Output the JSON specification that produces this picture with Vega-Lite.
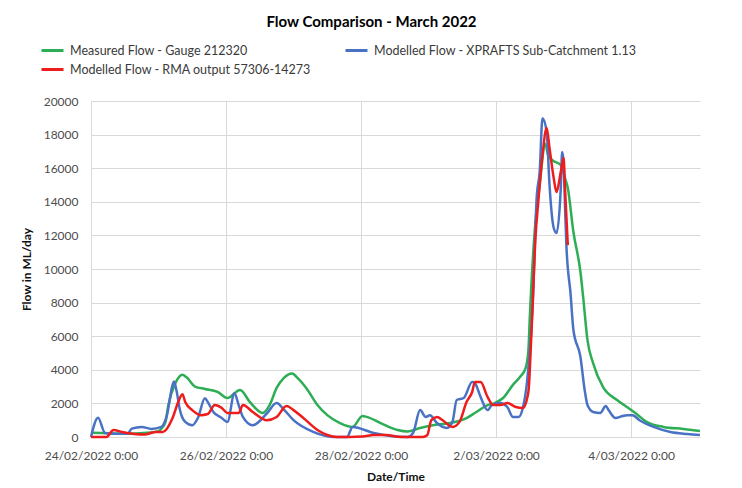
{
  "$schema": "https://vega.github.io/schema/vega-lite/v6.json",
  "width": 609,
  "height": 336,
  "autosize": {"type": "none"},
  "padding": {"left": 91, "top": 101, "right": 42, "bottom": 51},
  "background": "white",
  "title": {
    "text": "Flow Comparison - March 2022",
    "font": "Lato",
    "fontSize": 15,
    "fontWeight": "bold",
    "color": "#000000",
    "anchor": "middle",
    "dx": -24,
    "offset": 8
  },
  "config": {
    "view": {"stroke": null},
    "axis": {
      "gridColor": "#d9d9d9",
      "gridWidth": 1,
      "domain": false,
      "ticks": false,
      "labelFont": "Lato",
      "labelFontSize": 12,
      "labelColor": "#4d4d4d",
      "titleFont": "Lato",
      "titleFontSize": 12,
      "titleFontWeight": "bold",
      "titleColor": "#111111"
    }
  },
  "data": {
    "values": [
      {"s": "G", "t": "2022-02-24T00:00", "v": 250},
      {"s": "G", "t": "2022-02-24T12:00", "v": 200},
      {"s": "G", "t": "2022-02-24T20:00", "v": 250},
      {"s": "G", "t": "2022-02-25T00:00", "v": 350},
      {"s": "G", "t": "2022-02-25T01:00", "v": 500},
      {"s": "G", "t": "2022-02-25T02:30", "v": 900},
      {"s": "G", "t": "2022-02-25T03:30", "v": 1900},
      {"s": "G", "t": "2022-02-25T06:00", "v": 3200},
      {"s": "G", "t": "2022-02-25T08:30", "v": 3700},
      {"s": "G", "t": "2022-02-25T10:00", "v": 3550},
      {"s": "G", "t": "2022-02-25T13:00", "v": 3000},
      {"s": "G", "t": "2022-02-25T16:30", "v": 2860},
      {"s": "G", "t": "2022-02-25T21:00", "v": 2680},
      {"s": "G", "t": "2022-02-26T00:30", "v": 2320},
      {"s": "G", "t": "2022-02-26T05:00", "v": 2800},
      {"s": "G", "t": "2022-02-26T08:30", "v": 2080},
      {"s": "G", "t": "2022-02-26T13:00", "v": 1430},
      {"s": "G", "t": "2022-02-26T15:30", "v": 1900},
      {"s": "G", "t": "2022-02-26T18:00", "v": 2920},
      {"s": "G", "t": "2022-02-26T20:30", "v": 3500},
      {"s": "G", "t": "2022-02-26T23:30", "v": 3780},
      {"s": "G", "t": "2022-02-27T01:30", "v": 3500},
      {"s": "G", "t": "2022-02-27T05:00", "v": 2800},
      {"s": "G", "t": "2022-02-27T08:30", "v": 1900},
      {"s": "G", "t": "2022-02-27T12:00", "v": 1300},
      {"s": "G", "t": "2022-02-27T16:30", "v": 830},
      {"s": "G", "t": "2022-02-27T21:00", "v": 600},
      {"s": "G", "t": "2022-02-28T00:30", "v": 1250},
      {"s": "G", "t": "2022-02-28T02:00", "v": 1200},
      {"s": "G", "t": "2022-02-28T07:00", "v": 830},
      {"s": "G", "t": "2022-02-28T13:00", "v": 420},
      {"s": "G", "t": "2022-02-28T16:30", "v": 330},
      {"s": "G", "t": "2022-02-28T21:00", "v": 540},
      {"s": "G", "t": "2022-03-01T01:30", "v": 700},
      {"s": "G", "t": "2022-03-01T07:30", "v": 830},
      {"s": "G", "t": "2022-03-01T13:30", "v": 1130},
      {"s": "G", "t": "2022-03-01T17:00", "v": 1490},
      {"s": "G", "t": "2022-03-01T21:00", "v": 1900},
      {"s": "G", "t": "2022-03-01T23:30", "v": 2020},
      {"s": "G", "t": "2022-03-02T02:30", "v": 2320},
      {"s": "G", "t": "2022-03-02T06:00", "v": 3100},
      {"s": "G", "t": "2022-03-02T08:30", "v": 3570},
      {"s": "G", "t": "2022-03-02T10:30", "v": 4100},
      {"s": "G", "t": "2022-03-02T11:30", "v": 5180},
      {"s": "G", "t": "2022-03-02T12:00", "v": 7140},
      {"s": "G", "t": "2022-03-02T14:00", "v": 12800},
      {"s": "G", "t": "2022-03-02T15:30", "v": 15000},
      {"s": "G", "t": "2022-03-02T17:30", "v": 17450},
      {"s": "G", "t": "2022-03-02T18:30", "v": 16780},
      {"s": "G", "t": "2022-03-02T20:00", "v": 16480},
      {"s": "G", "t": "2022-03-02T23:00", "v": 16190},
      {"s": "G", "t": "2022-03-03T00:30", "v": 15410},
      {"s": "G", "t": "2022-03-03T01:30", "v": 14820},
      {"s": "G", "t": "2022-03-03T03:30", "v": 12200},
      {"s": "G", "t": "2022-03-03T06:00", "v": 9820},
      {"s": "G", "t": "2022-03-03T07:00", "v": 8270},
      {"s": "G", "t": "2022-03-03T08:30", "v": 5770},
      {"s": "G", "t": "2022-03-03T10:30", "v": 4400},
      {"s": "G", "t": "2022-03-03T14:00", "v": 2980},
      {"s": "G", "t": "2022-03-03T19:00", "v": 2200},
      {"s": "G", "t": "2022-03-03T22:30", "v": 1785},
      {"s": "G", "t": "2022-03-04T01:30", "v": 1430},
      {"s": "G", "t": "2022-03-04T05:30", "v": 900},
      {"s": "G", "t": "2022-03-04T11:30", "v": 600},
      {"s": "G", "t": "2022-03-04T18:30", "v": 480},
      {"s": "G", "t": "2022-03-05T00:30", "v": 360},

      {"s": "B", "t": "2022-02-24T00:00", "v": 0},
      {"s": "B", "t": "2022-02-24T02:30", "v": 1150},
      {"s": "B", "t": "2022-02-24T05:00", "v": 240},
      {"s": "B", "t": "2022-02-24T08:30", "v": 200},
      {"s": "B", "t": "2022-02-24T13:00", "v": 200},
      {"s": "B", "t": "2022-02-24T14:30", "v": 500},
      {"s": "B", "t": "2022-02-24T18:00", "v": 600},
      {"s": "B", "t": "2022-02-24T21:30", "v": 480},
      {"s": "B", "t": "2022-02-25T01:00", "v": 600},
      {"s": "B", "t": "2022-02-25T03:00", "v": 1300},
      {"s": "B", "t": "2022-02-25T05:00", "v": 3100},
      {"s": "B", "t": "2022-02-25T05:30", "v": 3300},
      {"s": "B", "t": "2022-02-25T06:30", "v": 2680},
      {"s": "B", "t": "2022-02-25T07:30", "v": 1700},
      {"s": "B", "t": "2022-02-25T09:30", "v": 900},
      {"s": "B", "t": "2022-02-25T12:00", "v": 700},
      {"s": "B", "t": "2022-02-25T14:00", "v": 1130},
      {"s": "B", "t": "2022-02-25T16:30", "v": 2300},
      {"s": "B", "t": "2022-02-25T17:30", "v": 2080},
      {"s": "B", "t": "2022-02-25T19:30", "v": 1490},
      {"s": "B", "t": "2022-02-25T22:30", "v": 1130},
      {"s": "B", "t": "2022-02-26T00:30", "v": 900},
      {"s": "B", "t": "2022-02-26T03:00", "v": 2600},
      {"s": "B", "t": "2022-02-26T04:30", "v": 1900},
      {"s": "B", "t": "2022-02-26T06:00", "v": 1200},
      {"s": "B", "t": "2022-02-26T09:30", "v": 700},
      {"s": "B", "t": "2022-02-26T14:30", "v": 1400},
      {"s": "B", "t": "2022-02-26T18:00", "v": 2020},
      {"s": "B", "t": "2022-02-26T20:30", "v": 1650},
      {"s": "B", "t": "2022-02-27T00:00", "v": 1000},
      {"s": "B", "t": "2022-02-27T07:00", "v": 300},
      {"s": "B", "t": "2022-02-27T14:00", "v": 0},
      {"s": "B", "t": "2022-02-27T19:00", "v": 0},
      {"s": "B", "t": "2022-02-27T21:00", "v": 600},
      {"s": "B", "t": "2022-02-28T04:30", "v": 240},
      {"s": "B", "t": "2022-02-28T10:30", "v": 60},
      {"s": "B", "t": "2022-02-28T16:30", "v": 0},
      {"s": "B", "t": "2022-02-28T18:30", "v": 240},
      {"s": "B", "t": "2022-02-28T21:00", "v": 1600},
      {"s": "B", "t": "2022-02-28T23:00", "v": 1190},
      {"s": "B", "t": "2022-03-01T00:30", "v": 1300},
      {"s": "B", "t": "2022-03-01T03:00", "v": 830},
      {"s": "B", "t": "2022-03-01T06:30", "v": 540},
      {"s": "B", "t": "2022-03-01T08:30", "v": 900},
      {"s": "B", "t": "2022-03-01T10:00", "v": 2200},
      {"s": "B", "t": "2022-03-01T12:30", "v": 2320},
      {"s": "B", "t": "2022-03-01T15:30", "v": 3270},
      {"s": "B", "t": "2022-03-01T16:30", "v": 3200},
      {"s": "B", "t": "2022-03-01T18:30", "v": 2380},
      {"s": "B", "t": "2022-03-01T21:00", "v": 1600},
      {"s": "B", "t": "2022-03-01T22:30", "v": 1900},
      {"s": "B", "t": "2022-03-02T01:30", "v": 2020},
      {"s": "B", "t": "2022-03-02T04:00", "v": 1785},
      {"s": "B", "t": "2022-03-02T06:00", "v": 1190},
      {"s": "B", "t": "2022-03-02T08:00", "v": 1190},
      {"s": "B", "t": "2022-03-02T09:30", "v": 1725},
      {"s": "B", "t": "2022-03-02T11:00", "v": 3270},
      {"s": "B", "t": "2022-03-02T13:00", "v": 7850},
      {"s": "B", "t": "2022-03-02T14:30", "v": 14400},
      {"s": "B", "t": "2022-03-02T15:30", "v": 15770},
      {"s": "B", "t": "2022-03-02T16:30", "v": 18980},
      {"s": "B", "t": "2022-03-02T18:00", "v": 18150},
      {"s": "B", "t": "2022-03-02T19:00", "v": 15000},
      {"s": "B", "t": "2022-03-02T20:30", "v": 12440},
      {"s": "B", "t": "2022-03-02T21:30", "v": 12140},
      {"s": "B", "t": "2022-03-02T23:00", "v": 14800},
      {"s": "B", "t": "2022-03-02T23:30", "v": 16960},
      {"s": "B", "t": "2022-03-03T00:00", "v": 16360},
      {"s": "B", "t": "2022-03-03T00:30", "v": 13800},
      {"s": "B", "t": "2022-03-03T01:00", "v": 11420},
      {"s": "B", "t": "2022-03-03T02:30", "v": 8500},
      {"s": "B", "t": "2022-03-03T03:30", "v": 6370},
      {"s": "B", "t": "2022-03-03T06:00", "v": 4760},
      {"s": "B", "t": "2022-03-03T07:30", "v": 2800},
      {"s": "B", "t": "2022-03-03T08:30", "v": 1900},
      {"s": "B", "t": "2022-03-03T10:30", "v": 1490},
      {"s": "B", "t": "2022-03-03T13:00", "v": 1430},
      {"s": "B", "t": "2022-03-03T15:00", "v": 1840},
      {"s": "B", "t": "2022-03-03T16:00", "v": 1600},
      {"s": "B", "t": "2022-03-03T18:30", "v": 1130},
      {"s": "B", "t": "2022-03-03T21:00", "v": 1250},
      {"s": "B", "t": "2022-03-03T22:30", "v": 1300},
      {"s": "B", "t": "2022-03-04T00:30", "v": 1300},
      {"s": "B", "t": "2022-03-04T03:00", "v": 1000},
      {"s": "B", "t": "2022-03-04T08:00", "v": 600},
      {"s": "B", "t": "2022-03-04T14:00", "v": 300},
      {"s": "B", "t": "2022-03-04T20:00", "v": 180},
      {"s": "B", "t": "2022-03-05T00:30", "v": 120},

      {"s": "R", "t": "2022-02-24T00:00", "v": 0},
      {"s": "R", "t": "2022-02-24T05:30", "v": 0},
      {"s": "R", "t": "2022-02-24T08:00", "v": 420},
      {"s": "R", "t": "2022-02-24T11:00", "v": 300},
      {"s": "R", "t": "2022-02-24T15:30", "v": 180},
      {"s": "R", "t": "2022-02-24T19:00", "v": 150},
      {"s": "R", "t": "2022-02-24T23:00", "v": 300},
      {"s": "R", "t": "2022-02-25T01:30", "v": 300},
      {"s": "R", "t": "2022-02-25T05:00", "v": 1130},
      {"s": "R", "t": "2022-02-25T07:00", "v": 2080},
      {"s": "R", "t": "2022-02-25T08:30", "v": 2550},
      {"s": "R", "t": "2022-02-25T09:30", "v": 2080},
      {"s": "R", "t": "2022-02-25T12:00", "v": 1600},
      {"s": "R", "t": "2022-02-25T15:00", "v": 1300},
      {"s": "R", "t": "2022-02-25T17:30", "v": 1370},
      {"s": "R", "t": "2022-02-25T20:00", "v": 1900},
      {"s": "R", "t": "2022-02-25T22:30", "v": 1725},
      {"s": "R", "t": "2022-02-26T00:30", "v": 1430},
      {"s": "R", "t": "2022-02-26T04:30", "v": 1430},
      {"s": "R", "t": "2022-02-26T06:00", "v": 1900},
      {"s": "R", "t": "2022-02-26T09:30", "v": 1490},
      {"s": "R", "t": "2022-02-26T14:30", "v": 1000},
      {"s": "R", "t": "2022-02-26T18:00", "v": 1190},
      {"s": "R", "t": "2022-02-26T21:30", "v": 1850},
      {"s": "R", "t": "2022-02-27T00:00", "v": 1600},
      {"s": "R", "t": "2022-02-27T03:30", "v": 1130},
      {"s": "R", "t": "2022-02-27T08:30", "v": 420},
      {"s": "R", "t": "2022-02-27T12:00", "v": 120},
      {"s": "R", "t": "2022-02-27T15:30", "v": 0},
      {"s": "R", "t": "2022-02-28T00:30", "v": 30},
      {"s": "R", "t": "2022-02-28T04:30", "v": 120},
      {"s": "R", "t": "2022-02-28T09:00", "v": 120},
      {"s": "R", "t": "2022-02-28T14:00", "v": 0},
      {"s": "R", "t": "2022-02-28T22:00", "v": 0},
      {"s": "R", "t": "2022-02-28T23:30", "v": 100},
      {"s": "R", "t": "2022-03-01T01:00", "v": 1000},
      {"s": "R", "t": "2022-03-01T03:00", "v": 1190},
      {"s": "R", "t": "2022-03-01T05:00", "v": 1000},
      {"s": "R", "t": "2022-03-01T08:30", "v": 600},
      {"s": "R", "t": "2022-03-01T11:00", "v": 900},
      {"s": "R", "t": "2022-03-01T13:30", "v": 2080},
      {"s": "R", "t": "2022-03-01T15:30", "v": 2680},
      {"s": "R", "t": "2022-03-01T16:30", "v": 3270},
      {"s": "R", "t": "2022-03-01T18:30", "v": 3270},
      {"s": "R", "t": "2022-03-01T21:00", "v": 2380},
      {"s": "R", "t": "2022-03-01T23:00", "v": 1900},
      {"s": "R", "t": "2022-03-02T01:30", "v": 1900},
      {"s": "R", "t": "2022-03-02T04:00", "v": 2020},
      {"s": "R", "t": "2022-03-02T07:00", "v": 1785},
      {"s": "R", "t": "2022-03-02T09:30", "v": 1725},
      {"s": "R", "t": "2022-03-02T11:30", "v": 2680},
      {"s": "R", "t": "2022-03-02T12:00", "v": 4000},
      {"s": "R", "t": "2022-03-02T13:00", "v": 7850},
      {"s": "R", "t": "2022-03-02T14:00", "v": 11840},
      {"s": "R", "t": "2022-03-02T15:00", "v": 13980},
      {"s": "R", "t": "2022-03-02T16:30", "v": 16780},
      {"s": "R", "t": "2022-03-02T18:00", "v": 18390},
      {"s": "R", "t": "2022-03-02T19:00", "v": 17200},
      {"s": "R", "t": "2022-03-02T20:30", "v": 15410},
      {"s": "R", "t": "2022-03-02T21:30", "v": 14580},
      {"s": "R", "t": "2022-03-02T23:00", "v": 15770},
      {"s": "R", "t": "2022-03-03T00:00", "v": 16600},
      {"s": "R", "t": "2022-03-03T00:30", "v": 14820},
      {"s": "R", "t": "2022-03-03T01:30", "v": 11420}
    ]
  },
  "mark": {"type": "line", "strokeWidth": 2.5, "interpolate": "monotone"},
  "encoding": {
    "x": {
      "field": "t",
      "type": "temporal",
      "scale": {"domain": [{"year": 2022, "month": 2, "date": 24}, {"year": 2022, "month": 3, "date": 5, "hours": 0, "minutes": 30}]},
      "axis": {
        "title": "Date/Time",
        "values": [
          {"year": 2022, "month": 2, "date": 24},
          {"year": 2022, "month": 2, "date": 26},
          {"year": 2022, "month": 2, "date": 28},
          {"year": 2022, "month": 3, "date": 2},
          {"year": 2022, "month": 3, "date": 4}
        ],
        "format": "%-d/%m/%Y %-H:%M",
        "labelOverlap": false,
        "labelFlush": false,
        "labelBound": false,
        "labelFontSize": 12,
        "labelPadding": 13,
        "titlePadding": 10,
        "labelAngle": 0
      }
    },
    "y": {
      "field": "v",
      "type": "quantitative",
      "scale": {"domain": [0, 20000], "nice": false},
      "axis": {
        "title": "Flow in ML/day",
        "values": [0, 2000, 4000, 6000, 8000, 10000, 12000, 14000, 16000, 18000, 20000],
        "format": "d",
        "labelPadding": 13,
        "titlePadding": 10
      }
    },
    "color": {
      "field": "s",
      "type": "nominal",
      "scale": {"domain": ["G", "R", "B"], "range": ["#2DAE55", "#EE1C1C", "#4A72C4"]},
      "legend": {
        "title": null,
        "orient": "none",
        "legendX": -51,
        "legendY": -63,
        "columns": 2,
        "columnPadding": 28,
        "rowPadding": -1,
        "symbolType": "stroke",
        "symbolSize": 484,
        "symbolStrokeWidth": 3,
        "labelFont": "Lato",
        "labelFontSize": 12.5,
        "labelColor": "#3a3a3a",
        "labelOffset": 5,
        "labelLimit": 400,
        "labelExpr": "datum.label == 'G' ? 'Measured Flow - Gauge 212320' : datum.label == 'B' ? 'Modelled Flow - XPRAFTS Sub-Catchment 1.13' : 'Modelled Flow - RMA output 57306-14273'"
      }
    }
  }
}
